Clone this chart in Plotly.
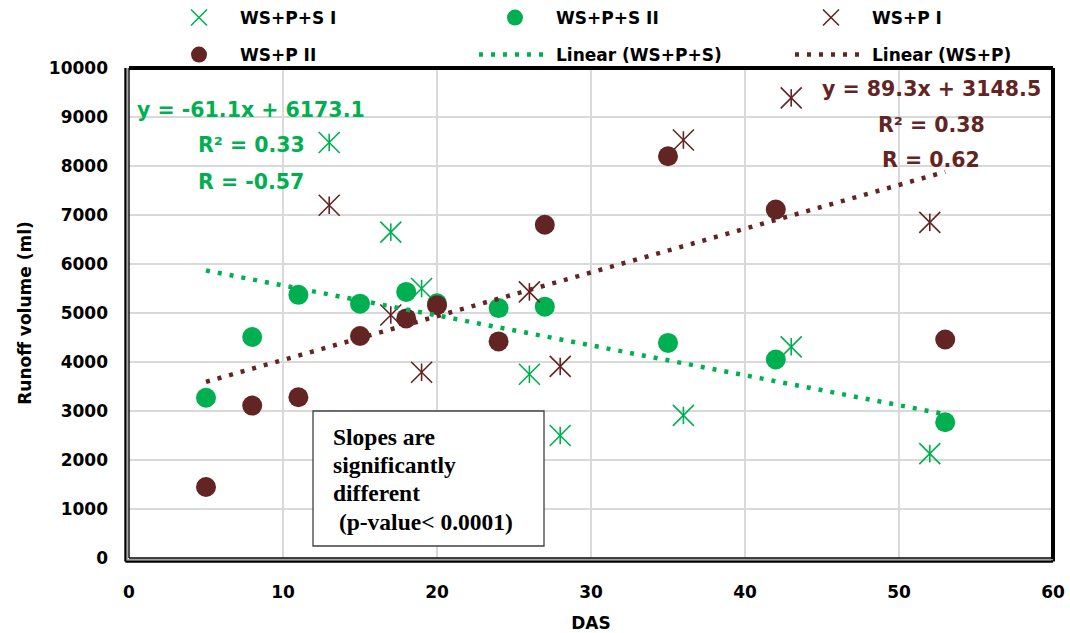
import plotly.graph_objects as go

# ---------------- data ----------------
das_wsps_1 = [13, 17, 19, 26, 28, 36, 43, 52]
runoff_wsps_1 = [8480, 6650, 5500, 3750, 2500, 2910, 4310, 2130]

das_wsps_2 = [5, 8, 11, 15, 18, 20, 24, 27, 35, 42, 53]
runoff_wsps_2 = [3270, 4510, 5370, 5190, 5430, 5200, 5100, 5130, 4390, 4050, 2770]

das_wsp_1 = [13, 17, 19, 26, 28, 36, 43, 52]
runoff_wsp_1 = [7200, 4960, 3790, 5430, 3910, 8530, 9390, 6850]

das_wsp_2 = [5, 8, 11, 15, 18, 20, 24, 27, 35, 42, 53]
runoff_wsp_2 = [1450, 3110, 3280, 4530, 4890, 5160, 4420, 6800, 8200, 7110, 4460]

# trendline equations shown on the chart: (slope, intercept)
trend_wsps = (-61.1, 6173.1)
trend_wsp = (89.3, 3148.5)

series_names = ["WS+P+S I", "WS+P+S II", "WS+P I", "WS+P II",
                "Linear (WS+P+S)", "Linear (WS+P)"]
eq_wsps = ["y = -61.1x + 6173.1", "R² = 0.33", "R = -0.57"]
eq_wsp = ["y = 89.3x + 3148.5", "R² = 0.38", "R = 0.62"]
box_text = ["Slopes are", "significantly", "different", " (p-value< 0.0001)"]

x_ticks = [0, 10, 20, 30, 40, 50, 60]
y_ticks = list(range(0, 10001, 1000))

# ---------------- style ----------------
GREEN = "#00B050"
BROWN = "#632523"
FONT = "DejaVu Sans"

ML, MR, MT, MB = 129, 17, 68, 75
W, H = 1070, 633
PW, PH = W - ML - MR, H - MT - MB


def px(xp):
    return (xp - ML) / PW


def py(yp):
    return (H - MB - yp) / PH


tick_font = dict(family=FONT, size=17, color="black", weight="bold")

# legend slot for each series: (legend id, item-start x px, row centre y px)
legend_slots = [("legend", 158, 18), ("legend2", 474, 18), ("legend3", 790, 18),
                ("legend4", 158, 55), ("legend5", 474, 55), ("legend6", 790, 55)]

fig = go.Figure()


def asterisk(xs, ys, color, name, legend):
    fig.add_trace(go.Scatter(
        x=xs, y=ys, mode="markers", name=name, legend=legend,
        legendgroup=name,
        marker=dict(symbol="x-thin-open", size=21, color=color,
                    line=dict(color=color, width=1.6))))
    fig.add_trace(go.Scatter(
        x=xs, y=ys, mode="markers", showlegend=False, legendgroup=name,
        legend=legend,
        marker=dict(symbol="line-ns-open", size=12.5, color=color,
                    line=dict(color=color, width=1.6))))


def dots(xs, ys, color, name, legend):
    fig.add_trace(go.Scatter(
        x=xs, y=ys, mode="markers", name=name, legend=legend,
        marker=dict(symbol="circle", size=20, color=color, line=dict(width=0))))


asterisk(das_wsps_1, runoff_wsps_1, GREEN, series_names[0], legend_slots[0][0])
dots(das_wsps_2, runoff_wsps_2, GREEN, series_names[1], legend_slots[1][0])
asterisk(das_wsp_1, runoff_wsp_1, BROWN, series_names[2], legend_slots[2][0])
dots(das_wsp_2, runoff_wsp_2, BROWN, series_names[3], legend_slots[3][0])

all_x = das_wsps_1 + das_wsps_2 + das_wsp_1 + das_wsp_2
tx = [min(all_x), max(all_x)]
for (m, b), color, name, slot in [(trend_wsps, GREEN, series_names[4], legend_slots[4]),
                                  (trend_wsp, BROWN, series_names[5], legend_slots[5])]:
    fig.add_trace(go.Scatter(
        x=tx, y=[m * v + b for v in tx], mode="lines", name=name,
        legend=slot[0],
        line=dict(color=color, width=4.5, dash="4px,8px")))

legends = {}
for lid, lx, ly in legend_slots:
    legends[lid] = dict(orientation="h", x=px(lx), xanchor="left",
                        y=1 + (MT - ly) / PH, yanchor="middle",
                        itemwidth=72, font=tick_font,
                        bgcolor="rgba(0,0,0,0)", borderwidth=0)

fig.update_layout(
    width=W, height=H,
    margin=dict(l=ML, r=MR, t=MT, b=MB, autoexpand=False),
    paper_bgcolor="white", plot_bgcolor="white",
    font=dict(family=FONT, color="black"),
    xaxis=dict(range=[0, 60], tickvals=x_ticks, showgrid=True,
               gridcolor="#d9d9d9", gridwidth=1.5, zeroline=False,
               showline=False, ticks="", ticklabelstandoff=22,
               tickfont=tick_font, automargin=False, tickformat="d",
               title=dict(text="DAS", font=tick_font, standoff=18)),
    yaxis=dict(range=[0, 10000], tickvals=y_ticks, showgrid=True,
               gridcolor="#d9d9d9", gridwidth=1.5, zeroline=False,
               showline=False, ticks="", ticklabelstandoff=20,
               tickfont=tick_font, automargin=False, tickformat="d",
               title=dict(text="Runoff volume (ml)", font=tick_font, standoff=12)),
    showlegend=True,
    **legends,
)

# frame: double line at left/bottom, thick line at top/right
shapes = [
    dict(type="line", xref="paper", yref="paper", x0=0, x1=1, y0=1, y1=1,
         line=dict(color="black", width=4)),
    dict(type="line", xref="paper", yref="paper", x0=1, x1=1, y0=-3.5 / PH, y1=1,
         line=dict(color="black", width=4)),
    dict(type="line", xref="paper", yref="paper", x0=0, x1=0, y0=0, y1=1,
         line=dict(color="black", width=1.4)),
    dict(type="line", xref="paper", yref="paper", x0=0, x1=1, y0=0, y1=0,
         line=dict(color="black", width=1.4)),
    dict(type="line", xref="paper", yref="paper", x0=-1.8 / PW, x1=-1.8 / PW,
         y0=-1.8 / PH, y1=1, line=dict(color="#a0a0a0", width=1.4)),
    dict(type="line", xref="paper", yref="paper", x0=-1.8 / PW, x1=1,
         y0=-1.8 / PH, y1=-1.8 / PH, line=dict(color="#a0a0a0", width=1.4)),
    dict(type="line", xref="paper", yref="paper", x0=-3.6 / PW, x1=-3.6 / PW,
         y0=-3.6 / PH, y1=1, line=dict(color="black", width=2.2)),
    dict(type="line", xref="paper", yref="paper", x0=-3.6 / PW, x1=1,
         y0=-3.6 / PH, y1=-3.6 / PH, line=dict(color="black", width=2.2)),
    # text box
    dict(type="rect", xref="paper", yref="paper", x0=px(313), x1=px(544),
         y0=py(546), y1=py(411), line=dict(color="#404040", width=1.3),
         fillcolor="white", layer="above"),
]
fig.update_layout(shapes=shapes)

ann = []
eq_font_g = dict(family=FONT, size=20.5, color=GREEN, weight="bold")
eq_font_b = dict(family=FONT, size=20.5, color=BROWN, weight="bold")
for txt, yy in zip(eq_wsps, [110, 145, 182]):
    ann.append(dict(text=txt, xref="paper", yref="paper", x=px(251), y=py(yy),
                    xanchor="center", yanchor="middle", showarrow=False,
                    font=eq_font_g))
for txt, yy in zip(eq_wsp, [89, 125, 160]):
    ann.append(dict(text=txt, xref="paper", yref="paper", x=px(931), y=py(yy),
                    xanchor="center", yanchor="middle", showarrow=False,
                    font=eq_font_b))
box_font = dict(family="Liberation Serif", size=23.5, color="black", weight="bold")
for txt, yy in zip(box_text, [437, 465, 493, 522]):
    ann.append(dict(text=txt, xref="paper", yref="paper",
                    x=px(331), y=py(yy), xanchor="left", yanchor="middle",
                    align="left", showarrow=False, font=box_font))
fig.update_layout(annotations=ann)

fig.write_html("out.html",
               config={"displayModeBar": False},
               post_script="document.body.style.margin='0';"
                           "document.body.style.overflow='hidden';")
